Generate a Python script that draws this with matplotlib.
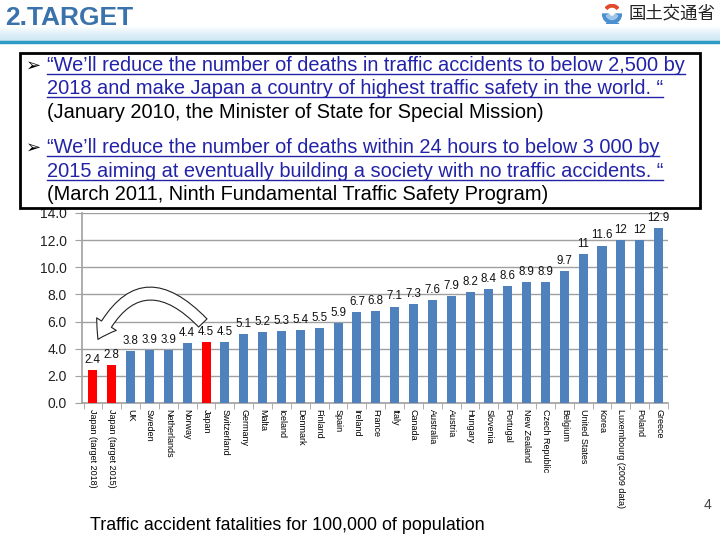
import matplotlib
matplotlib.use("Agg")
import matplotlib.pyplot as plt
import numpy as np
from matplotlib.patches import Rectangle, FancyArrowPatch, Wedge
from matplotlib.lines import Line2D
from matplotlib.colors import LinearSegmentedColormap

plt.rcParams['font.family'] = ['Liberation Sans', 'DejaVu Sans']

# ---------------- data ----------------
countries = ["Japan (target 2018)", "Japan (target 2015)", "UK", "Sweden", "Netherlands",
             "Norway", "Japan", "Switzerland", "Germany", "Malta", "Iceland", "Denmark",
             "Finland", "Spain", "Ireland", "France", "Italy", "Canada", "Australia",
             "Austria", "Hungary", "Slovenia", "Portugal", "New Zealand", "Czech Republic",
             "Belgium", "United States", "Korea", "Luxembourg (2009 data)", "Poland", "Greece"]
values = [2.4, 2.8, 3.8, 3.9, 3.9, 4.4, 4.5, 4.5, 5.1, 5.2, 5.3, 5.4, 5.5, 5.9, 6.7, 6.8,
          7.1, 7.3, 7.6, 7.9, 8.2, 8.4, 8.6, 8.9, 8.9, 9.7, 11, 11.6, 12, 12, 12.9]
highlight = [0, 1, 6]
y_ticks = [0, 2, 4, 6, 8, 10, 12, 14]

W, H = 720, 540
fig = plt.figure(figsize=(7.2, 5.4), dpi=100)

def fx(px):
    return px / W

def fy(py):
    return 1 - py / H

# ---------------- header ----------------
bg = fig.add_axes([0, fy(44), 1, (44 - 26) / H])
grad = np.linspace(0, 1, 50).reshape(-1, 1)
cm = LinearSegmentedColormap.from_list("hdr", ["#ffffff", "#dbeef8", "#c9e4f3"])
bg.imshow(grad, aspect='auto', cmap=cm, extent=[0, 1, 0, 1])
bg.axis('off')
fig.add_artist(Line2D([0, 1], [fy(41.5), fy(41.5)], transform=fig.transFigure,
                      color="#2f9bc4", lw=2.5))
fig.text(fx(5), fy(18), "2.TARGET", fontsize=19, fontweight='bold',
         color="#3a72ab", va='center', ha='left')
fig.text(fx(628), fy(14), "国土交通省", fontsize=12.5, va='center', ha='left',
         family=['Noto Sans CJK JP', 'DejaVu Sans'], color="#222222")
lg = fig.add_axes([fx(602), fy(24), 20 / W, 20 / H])
lg.set_xlim(-1, 1); lg.set_ylim(-1, 1); lg.set_aspect('equal'); lg.axis('off')
lg.add_patch(Wedge((0, 0), 0.95, 180, 360, width=0.55, color="#4a8fd0"))
lg.add_patch(Wedge((0, 0.05), 0.6, 200, 340, width=0.3, color="#9fc6ea"))
lg.add_patch(Wedge((0, 0.1), 0.85, 40, 140, width=0.25, color="#e24a2a"))
lg.add_patch(Rectangle((-0.6, -1.0), 1.2, 0.12, color="#4a8fd0"))

# ---------------- chart ----------------
ax = fig.add_axes([fx(82), fy(403), (668 - 82) / W, (403 - 213) / H])
x = np.arange(len(values))
colors = ["#ff0000" if i in highlight else "#4f81bd" for i in range(len(values))]
bars = ax.bar(x, values, width=0.48, color=colors, zorder=3)
ax.bar_label(bars, labels=[f"{v:g}" for v in values], padding=3, fontsize=8.3,
             color="#111111")
ax.set_ylim(0, 14)
ax.set_xlim(-0.58, 30.5)
ax.set_yticks(y_ticks)
ax.set_yticklabels([f"{t:.1f}" for t in y_ticks], fontsize=10, color="#222222")
ax.yaxis.grid(True, color="#a0a0a0", lw=1, zorder=0)
ax.set_xticks(x)
ax.set_xticklabels(countries, rotation=270, fontsize=6.5, va='top', ha='center')
ax.tick_params(axis='x', length=0, pad=4)
ax.set_xticks(np.arange(-0.5, len(values), 1), minor=True)
ax.tick_params(axis='x', which='minor', length=4, color="#a0a0a0", direction='out')
ax.tick_params(axis='y', length=5, color="#a0a0a0", direction='out', pad=6)
for s in ['top', 'right']:
    ax.spines[s].set_visible(False)
for s in ['left', 'bottom']:
    ax.spines[s].set_color("#a0a0a0")
    ax.spines[s].set_linewidth(1.2)

arr = FancyArrowPatch((5.93, 5.75), (0.2, 4.5),
                      connectionstyle="arc3,rad=0.73",
                      arrowstyle="simple,head_width=1.2,head_length=0.9,tail_width=0.6",
                      mutation_scale=14, facecolor="white", edgecolor="#222222",
                      lw=0.8, zorder=5)
ax.add_patch(arr)

# ---------------- text box ----------------
fig.add_artist(Rectangle((fx(20), fy(208)), (700 - 20) / W, (208 - 53) / H,
                         transform=fig.transFigure, facecolor="white",
                         edgecolor="black", lw=2, zorder=10))
blue = "#2323a8"
lines = [
    (71, True, "\u201cWe\u2019ll reduce the number of deaths in traffic accidents to below 2,500 by", blue, True),
    (94, False, "2018 and make Japan a country of highest traffic safety in the world. \u201c", blue, True),
    (118, False, "(January 2010, the Minister of State for Special Mission)", "black", False),
    (153, True, "\u201cWe\u2019ll reduce the number of deaths within 24 hours to below 3 000 by", blue, True),
    (177, False, "2015 aiming at eventually building a society with no traffic accidents. \u201c", blue, True),
    (200, False, "(March 2011, Ninth Fundamental Traffic Safety Program)", "black", False),
]
texts = []
for base, bullet, s, c, ul in lines:
    if bullet:
        fig.text(fx(26), fy(base), "\u27a2", fontsize=13, color="black",
                 va='baseline', ha='left', zorder=11,
                 family=['DejaVu Sans'])
    t = fig.text(fx(47), fy(base), s, fontsize=14.4, color=c, va='baseline',
                 ha='left', zorder=11)
    texts.append((t, base, ul, c))

fig.canvas.draw()
r = fig.canvas.get_renderer()
for t, base, ul, c in texts:
    if ul:
        bb = t.get_window_extent(r)
        yb = fy(base + 2.5)
        fig.add_artist(Line2D([bb.x0 / W, bb.x1 / W], [yb, yb], transform=fig.transFigure,
                              color=c, lw=1.0, zorder=11))

# ---------------- footer ----------------
fig.text(fx(90), fy(525), "Traffic accident fatalities for 100,000 of population",
         fontsize=12.9, color="black", va='center', ha='left')
fig.text(fx(708), fy(505), "4", fontsize=10, color="#444444", va='center', ha='center')

fig.savefig("out.png", dpi=100)
